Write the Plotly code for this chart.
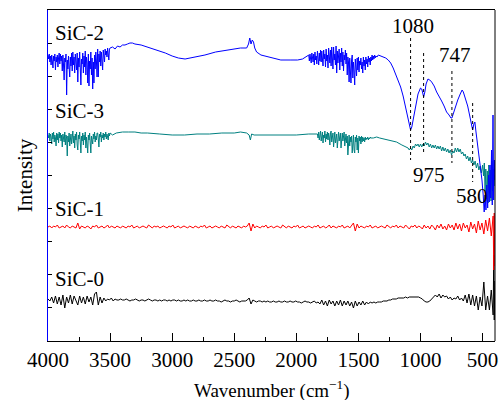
import plotly.graph_objects as go

# ---------------- data (intensity in arbitrary units) ----------------
# SiC-2 (blue): noisy segment 4000-3500 (step 5), smooth segment, noisy 1900-1350 (step 5), tail
sic2_wn_a = list(range(4000, 3499, -5))
sic2_int_a = [286,282,287,279,285,276,286,281,273,285,280,287,271,284,279,286,274,283,288,277,
              287,280,285,270,286,276,261,283,279,287,246,281,272,285,268,264,284,275,288,270,
              289,276,284,268,287,279,271,288,259,283,274,289,270,256,282,277,288,268,285,274,
              290,266,284,278,258,287,255,280,272,289,266,283,252,279,258,286,272,289,280,264,
              292,264,287,279,290,275,289,283,271,291,285,279,292,286,290,284,293,287,281,292,
              293]
sic2_wn_b = [3480,3460,3440,3420,3400,3380,3360,3340,3320,3300,3250,3200,3150,3100,3055,3000,2950,2896,2850,2800,
             2736,2650,2600,2528,2450,2400,2385,2375,2365,2355,2345,2335,2320,2285,2250,2200,2125,2050,1990,1950,
             1920]
sic2_int_b = [294,292,295,294,296,296,297,298,298,297,296,294,292,290,288,285,283,282,283,284,
              286,289,290,291,293,293,297,303,297,301,299,293,289,286,285,283,281,281,281,282,
              284]
sic2_wn_c = list(range(1900, 1349, -5))
sic2_int_c = [286,280,287,282,278,288,283,279,287,276,289,281,285,277,290,282,276,288,280,291,
              279,290,284,275,291,282,287,274,292,280,286,273,293,284,278,291,275,294,283,272,
              294,281,287,276,295,268,290,278,285,292,271,288,279,293,275,289,270,286,281,291,
              277,288,266,284,279,259,283,274,258,281,286,263,279,270,256,282,275,265,283,271,
              284,269,280,276,283,272,279,268,284,275,281,271,284,277,282,274,285,279,283,276,
              284,280,286,281,285,282,286,283,285,284,
              284]
sic2_wn_d = [1340,1320,1300,1280,1260,1240,1220,1200,1180,1160,1140,1120,1100,1090,1080,1070,1060,1040,1020,1000,
             990,980,975,965,955,940,925,910,890,870,850,830,810,790,770,755,747,735,720,700,
             680,665,655,640,620,605,590,580,570,562,555,545,530,515,505,495,487,480,473,466,
             459,452,446,440,434,428,422,416,411,406,402]
sic2_int_d = [286,285,284,283,281,278,273,267,261,254,245,233,221,214,211,214,221,236,247,253,
              252,247,244,249,257,262,261,259,255,249,245,240,235,229,226,223,223,228,234,241,
              247,251,249,243,235,226,217,211,217,219,211,201,189,176,161,146,129,146,131,156,
              133,166,139,176,143,191,136,226,141,181,161]

# SiC-3 (teal)
sic3_wn_a = list(range(4000, 3499, -5))
sic3_int_a = [206,203,208,200,207,204,197,208,202,209,199,206,203,195,208,201,207,198,209,203,
              208,200,206,194,207,202,199,209,196,206,203,185,205,199,208,195,203,207,197,209,
              210,198,205,193,207,201,209,196,191,206,202,209,195,188,205,200,208,196,206,201,
              209,193,204,199,188,206,201,208,195,188,205,200,197,207,202,209,199,205,201,208,
              208,202,194,207,204,209,199,206,203,208,201,207,204,209,202,207,205,201,208,205,
              208]
sic3_wn_b = [3480,3450,3400,3350,3300,3250,3200,3100,3000,2900,2800,2700,2600,2500,2450,2400,2380,2370,2360,2340,
             2300,2200,2100,2000,1900,1840]
sic3_int_b = [206,208,209,209,209,208,208,207,206,206,207,207,208,208,209,208,206,201,207,206,
              206,206,206,206,207,207]
sic3_wn_c = list(range(1830, 1399, -5))
sic3_int_c = [207,203,209,201,206,210,200,205,209,198,206,203,210,199,207,202,209,201,208,204,
              196,208,210,199,205,208,194,207,209,198,204,207,193,206,209,200,203,208,193,205,
              208,200,206,209,195,204,207,198,205,186,203,206,195,204,199,205,188,202,206,191,
              188,204,199,206,191,203,188,205,200,204,197,205,199,204,200,203,199,204,201,203,
              202,204,201,203,202,204,203]
sic3_wn_d = ([1380,1353,1329,1300,1250,1193,1150,1120] + list(range(1100, 499, -10))
             + [492,486,480,474,468,462,456,450,444,438,432,426,420,414,408,404])
sic3_int_d = [203,204,203,202,201,199,196,194,
              193,191,193,191,195,193,197,195,197,194,
              197,194,197,195,199,196,198,194,197,193,
              196,193,196,192,195,192,195,190,194,190,
              193,189,192,188,191,186,190,188,193,189,
              193,189,192,187,189,185,187,182,185,180,
              184,178,181,176,180,173,178,171,175,168,
              176,
              165,178,150,172,142,170,138,176,148,171,140,180,150,172,155,166]

# SiC-1 (red): 4000-415 step 15, plus the steep tail at the low-wavenumber edge
sic1_wn = list(range(4000, 414, -15)) + [410, 406, 402]
sic1_int = [114,115,113,115,114,116,113,114,115,113,116,114,113,115,114,113,118,112,115,114,
            113,115,114,112,115,114,116,113,114,115,113,114,116,113,115,114,113,115,114,113,
            115,114,113,115,114,116,113,114,115,113,114,115,114,113,116,114,113,115,114,115,
            113,114,115,114,113,115,114,116,113,114,115,113,114,115,114,113,115,114,113,115,
            114,113,115,114,116,113,114,115,113,114,115,114,113,115,114,113,116,114,113,115,
            114,113,115,114,113,115,114,115,118,110,117,113,115,114,113,115,114,116,113,114,
            115,113,114,115,114,113,116,114,113,115,114,113,115,114,116,113,114,115,113,114,
            115,114,113,115,114,116,113,114,115,113,114,116,113,115,114,113,115,114,116,113,
            114,115,113,116,118,110,117,113,115,114,113,115,114,116,113,114,115,113,114,115,
            114,113,116,114,113,115,114,116,113,115,114,113,116,114,112,115,114,116,113,115,
            114,112,116,113,115,112,116,114,111,116,113,117,112,115,111,117,113,116,111,118,
            112,117,110,118,113,116,109,119,112,117,108,120,111,118,107,121,110,123,105,125,
            71,128,75]

# SiC-0 (black)
sic0_wn = list(range(4000, 414, -15)) + [410, 406, 402]
sic0_int = [42,40,44,38,45,37,44,36,46,33,44,38,46,37,45,40,36,45,38,44,
            37,45,39,44,36,47,49,36,44,38,43,40,42,41,43,40,42,41,41,42,
            41,41,42,41,40,41,41,42,41,40,41,41,40,41,42,41,40,41,41,40,
            41,40,41,41,40,41,40,41,41,40,41,40,40,41,40,41,40,40,41,40,
            40,41,40,40,41,40,40,41,40,40,41,40,40,39,40,41,40,40,39,40,
            40,41,40,39,40,40,40,41,43,37,41,40,39,40,40,39,40,39,40,39,
            39,40,39,39,40,39,39,40,39,39,40,39,39,40,39,39,38,39,40,39,
            39,38,39,40,38,39,37,41,36,40,35,41,37,40,35,40,36,41,35,40,
            36,40,35,39,33,40,35,39,36,40,36,39,37,39,38,39,38,39,39,39,
            40,40,40,41,41,42,42,42,43,43,43,43,44,43,44,44,44,44,44,44,
            43,42,40,39,39,40,42,44,46,44,47,43,46,44,45,42,44,41,43,42,
            45,41,43,40,46,38,47,36,46,35,45,31,44,35,59,31,45,31,51,26,
            86,21,60]

peak_wn = [1080, 975, 747, 580]
peak_labels = ["1080", "975", "747", "580"]
sample_names = ["SiC-2", "SiC-3", "SiC-1", "SiC-0"]
x_ticks = [4000, 3500, 3000, 2500, 2000, 1500, 1000, 500]

sic2_wn = sic2_wn_a + sic2_wn_b + sic2_wn_c + sic2_wn_d
sic2_int = sic2_int_a + sic2_int_b + sic2_int_c + sic2_int_d
sic3_wn = sic3_wn_a + sic3_wn_b + sic3_wn_c + sic3_wn_d
sic3_int = sic3_int_a + sic3_int_b + sic3_int_c + sic3_int_d
for a, b in [(sic2_wn_a, sic2_int_a), (sic2_wn_b, sic2_int_b), (sic2_wn_c, sic2_int_c), (sic2_wn_d, sic2_int_d),
             (sic3_wn_a, sic3_int_a), (sic3_wn_b, sic3_int_b), (sic3_wn_c, sic3_int_c), (sic3_wn_d, sic3_int_d),
             (sic1_wn, sic1_int), (sic0_wn, sic0_int)]:
    assert len(a) == len(b), (len(a), len(b), a[0])

FONT = "Liberation Serif, Times New Roman, serif"

fig = go.Figure()
for wn, it, col in [(sic0_wn, sic0_int, "#000000"),
                    (sic1_wn, sic1_int, "#ff0000"),
                    (sic3_wn, sic3_int, "#008080"),
                    (sic2_wn, sic2_int, "#0000ff")]:
    fig.add_trace(go.Scatter(x=wn, y=it, mode="lines", line=dict(color=col, width=1),
                             showlegend=False, hoverinfo="skip"))

# dotted peak markers (vertical extent of each)
peak_lines = [(303, 181), (288, 188), (270, 178), (238, 159)]
for w, (y0, y1) in zip(peak_wn, peak_lines):
    fig.add_shape(type="line", x0=w, x1=w, y0=y0, y1=y1, xref="x", yref="y",
                  line=dict(color="black", width=1, dash="dot"))

# right spine (black)
fig.add_shape(type="line", x0=1, x1=1, y0=0, y1=1, xref="paper", yref="paper",
              line=dict(color="black", width=1))

peak_pos = [(1057, 315), (933, 166), (721, 286), (589, 145)]
for lab, (x, y) in zip(peak_labels, peak_pos):
    fig.add_annotation(x=x, y=y, text=lab, showarrow=False, xanchor="center", yanchor="middle",
                       font=dict(family=FONT, size=21, color="black"))

name_y = [308, 230, 132, 62]
for nm, y in zip(sample_names, name_y):
    fig.add_annotation(x=3962, y=y, text=nm, showarrow=False, xanchor="left", yanchor="middle",
                       font=dict(family=FONT, size=21, color="black"))

# axis titles
fig.add_annotation(xref="paper", yref="paper", x=0.5, y=-0.148, text="Wavenumber (cm<sup>−1</sup>)",
                   showarrow=False, xanchor="center", yanchor="middle",
                   font=dict(family=FONT, size=19, color="black"))
fig.add_annotation(xref="paper", yref="paper", x=-0.052, y=0.5, text="Intensity", textangle=-90,
                   showarrow=False, xanchor="center", yanchor="middle",
                   font=dict(family=FONT, size=21, color="black"))

fig.update_layout(
    width=504, height=400,
    margin=dict(l=48, r=6, t=10, b=59),
    paper_bgcolor="white", plot_bgcolor="white",
    font=dict(family=FONT, size=21, color="black"),
    xaxis=dict(range=[4000, 400], tickvals=x_ticks, ticks="inside", ticklen=8, tickcolor="black",
               minor=dict(dtick=250, tick0=0, ticks="inside", ticklen=4, tickcolor="black"),
               showline=True, linecolor="black", linewidth=1, mirror=True,
               showgrid=False, zeroline=False,
               tickfont=dict(family=FONT, size=21, color="black")),
    yaxis=dict(range=[0, 331], tick0=0, dtick=33.1, ticks="inside", ticklen=4, tickcolor="black",
               showticklabels=False, showline=True, linecolor="#0000ff", linewidth=1, mirror=False,
               showgrid=False, zeroline=False),
)

fig.write_html("out.html", config={"displayModeBar": False},
               post_script="document.body.style.margin='0';document.body.style.overflow='hidden';")
